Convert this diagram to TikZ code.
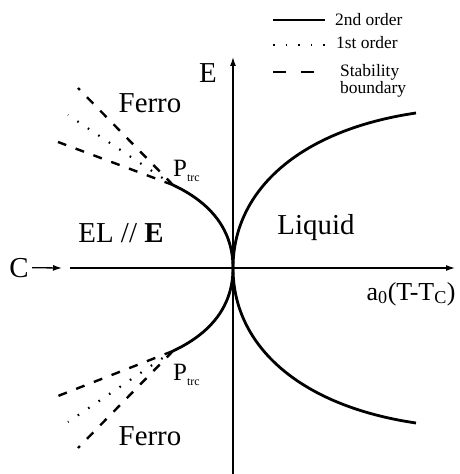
\documentclass[tikz,border=0pt]{standalone}
\usepackage{fontspec}
\setmainfont{Liberation Serif}
\usetikzlibrary{arrows.meta}
\newcommand{\bigfont}{\fontsize{29}{29}\selectfont}
\newcommand{\legfont}{\fontsize{17.5}{12.5}\selectfont}
\newcommand{\ptrc}{{\fontsize{25}{25}\selectfont P}\raisebox{-5bp}{\fontsize{12}{12}\selectfont trc}}
\tikzset{
  phase/.style={line width=2.8bp},
  stab/.style={line width=2.4bp, dash pattern=on 9bp off 10bp},
  firstord/.style={line width=2.2bp, dash pattern=on 1.6bp off 11bp},
  axis/.style={line width=1.3bp, -{Latex[length=9bp,width=6bp]}},
}
\begin{document}
\begin{tikzpicture}[x=1bp,y=-1bp]
\useasboundingbox (0,0) rectangle (460,474);
% axes
\coordinate (O) at (233,268);
\coordinate (xl) at (70,268);
\coordinate (xr) at (455,268);
\coordinate (yb) at (233,474);
\coordinate (yt) at (233,57);
\draw[axis] (xl) -- (xr);
\draw[axis] (yb) -- (yt);
\node[anchor=base] (E) at (208,83) {\bigfont E};
\node[anchor=base east] (xlab) at (459,300) {\fontsize{26}{26}\selectfont a\textsubscript{0}(T-T\textsubscript{C})};
\node[anchor=base] (C) at (19,277) {\bigfont C};
\coordinate (Ctip) at (62,268);
\draw[axis] (C) -- (Ctip);
% regions
\node[anchor=base] (ferU) at (150,113) {\bigfont Ferro};
\node[anchor=base] (ferL) at (150,445) {\bigfont Ferro};
\node[anchor=base] (liq) at (316,235) {\bigfont Liquid};
\node[anchor=base] (el) at (121,242) {\bigfont EL // \textbf{E}};
% tricritical points
\coordinate (ptU) at (173,185);
\coordinate (ptL) at (173,351);
\node[anchor=base west,inner sep=0pt] (PU) at (173,177) {\ptrc};
\node[anchor=base west,inner sep=0pt] (PL) at (173,380) {\ptrc};
% second order lines
\coordinate (rU) at (416,113);
\coordinate (rL) at (416,423);
\draw[phase] (O) .. controls (233,190) and (300,130) .. (rU);
\draw[phase] (O) .. controls (233,346) and (300,406) .. (rL);
\draw[phase] (O) .. controls (233,225) and (205,200) .. (ptU);
\draw[phase] (O) .. controls (233,311) and (205,336) .. (ptL);
% stability boundaries and first order lines
\coordinate (sU1) at (58,142);
\coordinate (sU2) at (78,88);
\coordinate (fU) at (68,115);
\coordinate (sL1) at (58,396);
\coordinate (sL2) at (78,448);
\coordinate (fL) at (68,422);
\draw[stab] (ptU) -- (sU1);
\draw[stab] (ptU) -- (sU2);
\draw[firstord] (ptU) -- (fU);
\draw[stab] (ptL) -- (sL1);
\draw[stab] (ptL) -- (sL2);
\draw[firstord] (ptL) -- (fL);
% legend
\coordinate (l1a) at (273,20);
\coordinate (l1b) at (325,20);
\coordinate (l2a) at (273,45);
\coordinate (l2b) at (326,45);
\coordinate (l3a) at (273,72);
\coordinate (l3b) at (314,72);
\draw[phase] (l1a) -- (l1b);
\draw[firstord] (l2a) -- (l2b);
\draw[line width=2.6bp, dash pattern=on 13bp off 15bp] (l3a) -- (l3b);
\node[anchor=base west,inner sep=0pt] (leg1) at (335,26) {\legfont 2nd order};
\node[anchor=base west,inner sep=0pt] (leg2) at (336,49) {\legfont 1st order};
\node[anchor=north west,inner sep=0pt,align=left,font=\legfont] (leg3) at (340,64) {Stability\\boundary};
\end{tikzpicture}
\end{document}
